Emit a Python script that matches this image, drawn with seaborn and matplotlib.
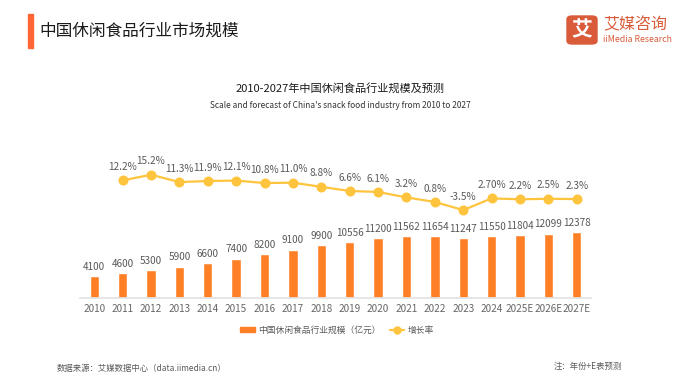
import matplotlib
matplotlib.use('Agg')
import matplotlib.pyplot as plt
import seaborn as sns
import pandas as pd
from matplotlib.patches import FancyBboxPatch, Rectangle
from matplotlib.lines import Line2D

# data
years = ['2010', '2011', '2012', '2013', '2014', '2015', '2016', '2017', '2018',
         '2019', '2020', '2021', '2022', '2023', '2024', '2025E', '2026E', '2027E']
scale = [4100, 4600, 5300, 5900, 6600, 7400, 8200, 9100, 9900,
         10556, 11200, 11562, 11654, 11247, 11550, 11804, 12099, 12378]
growth_years = years[1:]
growth = [12.2, 15.2, 11.3, 11.9, 12.1, 10.8, 11.0, 8.8, 6.6,
          6.1, 3.2, 0.8, -3.5, 2.7, 2.2, 2.5, 2.3]
growth_labels = ['12.2%', '15.2%', '11.3%', '11.9%', '12.1%', '10.8%', '11.0%', '8.8%', '6.6%',
                 '6.1%', '3.2%', '0.8%', '-3.5%', '2.70%', '2.2%', '2.5%', '2.3%']

sns.set_theme(style='white')
plt.rcParams['font.family'] = ['Noto Sans CJK SC', 'DejaVu Sans']

bar_color = '#FF7F27'
line_color = '#FFC43D'
text_color = '#595959'

bars = pd.DataFrame({'year': years, 'scale': scale})
rates = pd.DataFrame({'year': growth_years, 'growth': growth})

fig = plt.figure(figsize=(6.88, 3.87), dpi=100)
ax = fig.add_axes([0.1163, 0.23, 0.7427, 0.3566])

sns.barplot(data=bars, x='year', y='scale', order=years, color=bar_color,
            width=0.33, saturation=1, ax=ax)
ax.bar_label(ax.containers[0], labels=[str(v) for v in scale], padding=3,
             fontsize=7.2, color=text_color)
ax.set_ylim(0, 25900)

ax2 = ax.twinx()
sns.pointplot(data=rates, x='year', y='growth', order=years, color=line_color,
              markersize=6, linewidth=1.6, ax=ax2)
for yr, g, lab in zip(growth_years, growth, growth_labels):
    ax2.annotate(lab, (years.index(yr), g), xytext=(0, 6), textcoords='offset points',
                 ha='center', va='bottom', fontsize=7.2, color=text_color)
ax2.set_ylim(-50, 23)
ax.set_xlim(-0.5, len(years) - 0.5)

for a in (ax, ax2):
    for s in ('top', 'left', 'right'):
        a.spines[s].set_visible(False)
    a.set_yticks([])
    a.set_ylabel('')
    a.set_xlabel('')
ax.spines['bottom'].set_color('#E3E3E3')
ax2.spines['bottom'].set_visible(False)
ax.tick_params(axis='x', length=0, labelsize=7.2, labelcolor='#666666', pad=4)

# legend
handles = [Rectangle((0, 0), 1, 1, color=bar_color),
           Line2D([0], [0], color=line_color, marker='o', markersize=5, linewidth=1.6)]
fig.legend(handles, ['中国休闲食品行业规模（亿元）', '增长率'], loc='center',
           bbox_to_anchor=(0.49, 0.147), ncol=2, frameon=False, fontsize=6.3,
           labelcolor=text_color, handlelength=1.7, handleheight=0.6, columnspacing=1.0,
           handletextpad=0.4)

# header
fig.patches.append(Rectangle((28 / 688, 1 - 48 / 387), 5 / 688, 34 / 387,
                             transform=fig.transFigure, color='#FF6633'))
fig.text(39 / 688, 1 - 31 / 387, '中国休闲食品行业市场规模', fontsize=12, color='#1a1a1a',
         va='center', ha='left')

# logo
fig.patches.append(FancyBboxPatch((567 / 688, 1 - 44 / 387), 30 / 688, 28 / 387,
                                  boxstyle='round,pad=0,rounding_size=0.008',
                                  transform=fig.transFigure, color='#D95B3A'))
fig.text(582 / 688, 1 - 30 / 387, '艾', fontsize=15, color='white', fontweight='bold',
         ha='center', va='center')
fig.text(603 / 688, 1 - 25 / 387, '艾媒咨询', fontsize=11.5, color='#D95B3A',
         fontweight='medium', ha='left', va='center')
fig.text(603 / 688, 1 - 40 / 387, 'iiMedia Research', fontsize=6.3, color='#D95B3A',
         ha='left', va='center')

# chart titles
fig.text(340 / 688, 1 - 88 / 387, '2010-2027年中国休闲食品行业规模及预测', fontsize=8,
         color='#1a1a1a', ha='center', va='center')
fig.text(340 / 688, 1 - 106 / 387, "Scale and forecast of China's snack food industry from 2010 to 2027",
         fontsize=6, color='#333333', ha='center', va='center')

# footer
fig.text(57 / 688, 1 - 368 / 387, '数据来源：艾媒数据中心（data.iimedia.cn）', fontsize=6,
         color=text_color, ha='left', va='center')
fig.text(622 / 688, 1 - 366 / 387, '注：年份+E表预测', fontsize=6, color=text_color,
         ha='right', va='center')

fig.savefig('out.png', dpi=100)
